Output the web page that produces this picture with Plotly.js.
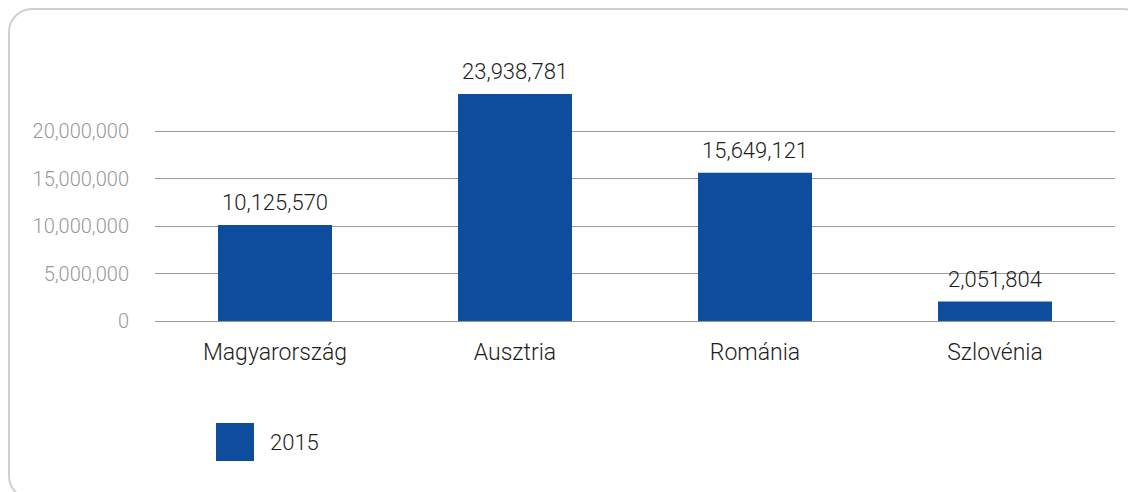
<!DOCTYPE html>
<html>
<head>
<meta charset="utf-8">
<script src="https://cdn.plot.ly/plotly-3.0.1.min.js"></script>
<style>
  html, body { margin: 0; padding: 0; width: 1128px; height: 492px; overflow: hidden; background: #ffffff; }
  #frame { position: absolute; left: 8px; top: 8px; width: 1140px; height: 492px; box-sizing: border-box;
           border: 2px solid #cfcfcf; border-radius: 24px; }
  #chart { position: absolute; left: 0; top: 0; width: 1128px; height: 492px; }
</style>
</head>
<body>
<div id="frame"></div>
<div id="chart"></div>
<script>
const categories = ["Magyarország", "Ausztria", "Románia", "Szlovénia"];
const values2015 = [10125570, 23938781, 15649121, 2051804];
const seriesName = "2015";
const yTickVals = [0, 5000000, 10000000, 15000000, 20000000];
const yTickText = ["0", "5,000,000", "10,000,000", "15,000,000", "20,000,000"];

const barColor = "#0e4c9e";
const fontFamily = "Roboto, 'Open Sans', sans-serif";
const textWeight = 300;

const fmt = v => v.toLocaleString("en-US");

const trace = {
  type: "bar",
  name: seriesName,
  x: categories,
  y: values2015,
  marker: { color: barColor },
  hoverinfo: "x+y",
  showlegend: false
};

const valueLabels = categories.map((c, i) => ({
  xref: "x", yref: "y",
  x: c, y: values2015[i],
  xanchor: "center", yanchor: "bottom",
  yshift: 8,
  text: fmt(values2015[i]),
  showarrow: false,
  font: { family: fontFamily, size: 22, color: "#1e1e1e", weight: textWeight }
}));

const layout = {
  width: 1128,
  height: 492,
  margin: { l: 155, r: 13, t: 84, b: 171 },
  paper_bgcolor: "rgba(0,0,0,0)",
  plot_bgcolor: "rgba(0,0,0,0)",
  bargap: 0.525,
  showlegend: false,
  font: { family: fontFamily },
  xaxis: {
    type: "category",
    showgrid: false,
    showline: false,
    zeroline: false,
    ticks: "",
    ticklabelstandoff: 15,
    tickfont: { family: fontFamily, size: 23, color: "#1e1e1e", weight: textWeight }
  },
  yaxis: {
    range: [0, 25000000],
    tickvals: yTickVals,
    ticktext: yTickText,
    showgrid: true,
    gridcolor: "#9a9a9a",
    gridwidth: 1,
    zeroline: true,
    zerolinecolor: "#9a9a9a",
    zerolinewidth: 1,
    showline: false,
    ticks: "",
    ticklabelstandoff: 25,
    tickfont: { family: fontFamily, size: 20, color: "#999999", weight: textWeight }
  },
  shapes: [
    {
      type: "rect",
      xref: "paper", yref: "paper",
      x0: (216 - 155) / 960, x1: (254 - 155) / 960,
      y0: (321 - 461) / 237, y1: (321 - 423) / 237,
      fillcolor: barColor,
      line: { width: 0 }
    }
  ],
  annotations: valueLabels.concat([
    {
      xref: "paper", yref: "paper",
      x: (268 - 155) / 960, y: (321 - 442) / 237,
      xanchor: "left", yanchor: "middle",
      text: seriesName,
      showarrow: false,
      font: { family: fontFamily, size: 22, color: "#1e1e1e", weight: textWeight }
    }
  ])
};

Plotly.newPlot("chart", [trace], layout, { displayModeBar: false, staticPlot: true });
</script>
</body>
</html>
